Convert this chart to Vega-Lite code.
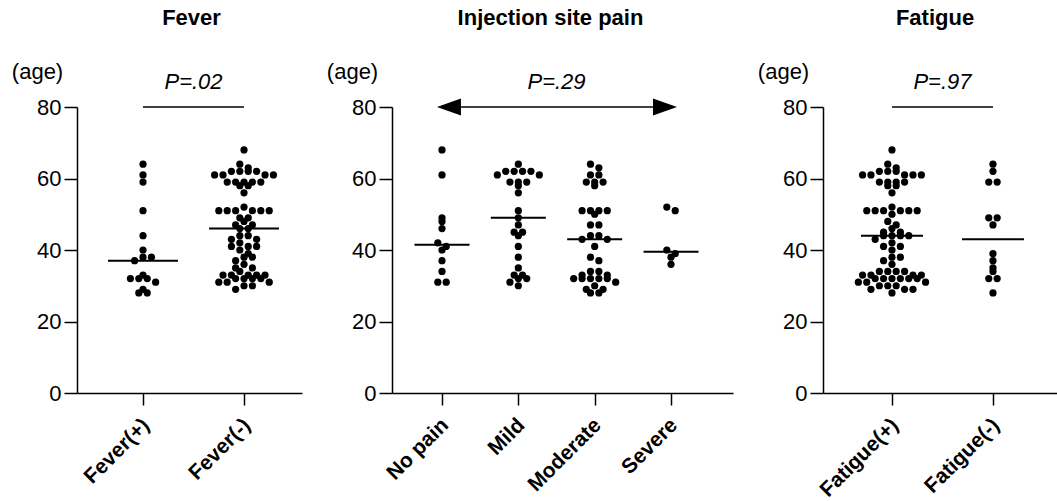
{
  "$schema": "https://vega.github.io/schema/vega-lite/v6.json",
  "autosize": {"type": "pad"},
  "padding": {"left": 11, "top": 7, "right": 0, "bottom": 0},
  "spacing": 90,
  "bounds": "flush",
  "background": "white",
  "config": {
    "view": {"stroke": null},
    "font": "Liberation Sans",
    "axis": {"domainColor": "black", "tickColor": "black", "labelColor": "black", "titleColor": "black", "domainWidth": 1.5, "tickWidth": 1.5, "grid": false, "labelFont": "Liberation Sans", "titleFont": "Liberation Sans", "labelFlush": false, "labelOverlap": false, "labelBound": false},
    "axisY": {"tickSize": 13, "labelFontSize": 22, "labelPadding": 3, "titleAngle": 0, "titleX": -40, "titleY": -29, "titleAlign": "center", "titleBaseline": "alphabetic", "titleFontWeight": "normal", "titleFontSize": 22},
    "axisX": {"tickSize": 12, "labelAngle": -45, "labelAlign": "right", "labelBaseline": "top", "labelFontWeight": "bold", "labelFontSize": 21, "labelPadding": 9, "labelOffset": -5},
    "title": {"font": "Liberation Sans", "fontSize": 22, "fontWeight": "bold", "color": "black", "anchor": "middle", "frame": "group", "offset": 30},
    "text": {"font": "Liberation Sans", "color": "black"}
  },
  "datasets": {
    "fever": [
      {"group": "Fever(+)", "age": 64}, {"group": "Fever(+)", "age": 61}, {"group": "Fever(+)", "age": 59}, {"group": "Fever(+)", "age": 51}, {"group": "Fever(+)", "age": 44}, {"group": "Fever(+)", "age": 40}, {"group": "Fever(+)", "age": 38}, {"group": "Fever(+)", "age": 38}, {"group": "Fever(+)", "age": 37}, {"group": "Fever(+)", "age": 33}, {"group": "Fever(+)", "age": 32}, {"group": "Fever(+)", "age": 32}, {"group": "Fever(+)", "age": 32}, {"group": "Fever(+)", "age": 31}, {"group": "Fever(+)", "age": 29}, {"group": "Fever(+)", "age": 28}, {"group": "Fever(+)", "age": 28},
      {"group": "Fever(-)", "age": 68}, {"group": "Fever(-)", "age": 64}, {"group": "Fever(-)", "age": 63}, {"group": "Fever(-)", "age": 62}, {"group": "Fever(-)", "age": 62}, {"group": "Fever(-)", "age": 62}, {"group": "Fever(-)", "age": 62}, {"group": "Fever(-)", "age": 61}, {"group": "Fever(-)", "age": 61}, {"group": "Fever(-)", "age": 61}, {"group": "Fever(-)", "age": 61}, {"group": "Fever(-)", "age": 59}, {"group": "Fever(-)", "age": 59}, {"group": "Fever(-)", "age": 59}, {"group": "Fever(-)", "age": 59}, {"group": "Fever(-)", "age": 59}, {"group": "Fever(-)", "age": 58}, {"group": "Fever(-)", "age": 58}, {"group": "Fever(-)", "age": 56},
      {"group": "Fever(-)", "age": 52}, {"group": "Fever(-)", "age": 51}, {"group": "Fever(-)", "age": 51}, {"group": "Fever(-)", "age": 51}, {"group": "Fever(-)", "age": 51}, {"group": "Fever(-)", "age": 51}, {"group": "Fever(-)", "age": 51},
      {"group": "Fever(-)", "age": 49}, {"group": "Fever(-)", "age": 49}, {"group": "Fever(-)", "age": 48}, {"group": "Fever(-)", "age": 47}, {"group": "Fever(-)", "age": 47}, {"group": "Fever(-)", "age": 46}, {"group": "Fever(-)", "age": 46}, {"group": "Fever(-)", "age": 44}, {"group": "Fever(-)", "age": 44}, {"group": "Fever(-)", "age": 43}, {"group": "Fever(-)", "age": 43}, {"group": "Fever(-)", "age": 42}, {"group": "Fever(-)", "age": 41}, {"group": "Fever(-)", "age": 41}, {"group": "Fever(-)", "age": 41}, {"group": "Fever(-)", "age": 40}, {"group": "Fever(-)", "age": 39}, {"group": "Fever(-)", "age": 38}, {"group": "Fever(-)", "age": 38}, {"group": "Fever(-)", "age": 37}, {"group": "Fever(-)", "age": 36}, {"group": "Fever(-)", "age": 35}, {"group": "Fever(-)", "age": 35},
      {"group": "Fever(-)", "age": 34}, {"group": "Fever(-)", "age": 33}, {"group": "Fever(-)", "age": 33}, {"group": "Fever(-)", "age": 33}, {"group": "Fever(-)", "age": 33}, {"group": "Fever(-)", "age": 33}, {"group": "Fever(-)", "age": 32}, {"group": "Fever(-)", "age": 32}, {"group": "Fever(-)", "age": 32}, {"group": "Fever(-)", "age": 32}, {"group": "Fever(-)", "age": 31}, {"group": "Fever(-)", "age": 31}, {"group": "Fever(-)", "age": 31}, {"group": "Fever(-)", "age": 30}, {"group": "Fever(-)", "age": 30}, {"group": "Fever(-)", "age": 29}
    ],
    "fever_median": [{"group": "Fever(+)", "median": 37}, {"group": "Fever(-)", "median": 46}],
    "fever_test": [{"g1": "Fever(+)", "g2": "Fever(-)", "level": 80, "label": "P=.02"}],
    "pain": [
      {"group": "No pain", "age": 68}, {"group": "No pain", "age": 61}, {"group": "No pain", "age": 49}, {"group": "No pain", "age": 48}, {"group": "No pain", "age": 46}, {"group": "No pain", "age": 42}, {"group": "No pain", "age": 41}, {"group": "No pain", "age": 40}, {"group": "No pain", "age": 37}, {"group": "No pain", "age": 34}, {"group": "No pain", "age": 31}, {"group": "No pain", "age": 31},
      {"group": "Mild", "age": 64}, {"group": "Mild", "age": 62}, {"group": "Mild", "age": 62}, {"group": "Mild", "age": 62}, {"group": "Mild", "age": 62}, {"group": "Mild", "age": 61}, {"group": "Mild", "age": 61}, {"group": "Mild", "age": 59}, {"group": "Mild", "age": 59}, {"group": "Mild", "age": 59}, {"group": "Mild", "age": 58}, {"group": "Mild", "age": 56}, {"group": "Mild", "age": 51}, {"group": "Mild", "age": 49}, {"group": "Mild", "age": 47}, {"group": "Mild", "age": 45}, {"group": "Mild", "age": 45}, {"group": "Mild", "age": 44}, {"group": "Mild", "age": 41}, {"group": "Mild", "age": 38}, {"group": "Mild", "age": 35}, {"group": "Mild", "age": 33}, {"group": "Mild", "age": 33}, {"group": "Mild", "age": 32}, {"group": "Mild", "age": 32}, {"group": "Mild", "age": 31}, {"group": "Mild", "age": 30},
      {"group": "Moderate", "age": 64}, {"group": "Moderate", "age": 63}, {"group": "Moderate", "age": 61}, {"group": "Moderate", "age": 61}, {"group": "Moderate", "age": 59}, {"group": "Moderate", "age": 59}, {"group": "Moderate", "age": 59}, {"group": "Moderate", "age": 58}, {"group": "Moderate", "age": 51}, {"group": "Moderate", "age": 51}, {"group": "Moderate", "age": 51}, {"group": "Moderate", "age": 51}, {"group": "Moderate", "age": 50}, {"group": "Moderate", "age": 47}, {"group": "Moderate", "age": 47}, {"group": "Moderate", "age": 44}, {"group": "Moderate", "age": 44}, {"group": "Moderate", "age": 43}, {"group": "Moderate", "age": 43}, {"group": "Moderate", "age": 41}, {"group": "Moderate", "age": 38}, {"group": "Moderate", "age": 37}, {"group": "Moderate", "age": 34}, {"group": "Moderate", "age": 34}, {"group": "Moderate", "age": 33}, {"group": "Moderate", "age": 33}, {"group": "Moderate", "age": 32}, {"group": "Moderate", "age": 32}, {"group": "Moderate", "age": 32}, {"group": "Moderate", "age": 32}, {"group": "Moderate", "age": 32}, {"group": "Moderate", "age": 31}, {"group": "Moderate", "age": 30}, {"group": "Moderate", "age": 29}, {"group": "Moderate", "age": 29}, {"group": "Moderate", "age": 28}, {"group": "Moderate", "age": 28},
      {"group": "Severe", "age": 52}, {"group": "Severe", "age": 51}, {"group": "Severe", "age": 40}, {"group": "Severe", "age": 39}, {"group": "Severe", "age": 38}, {"group": "Severe", "age": 36}
    ],
    "pain_median": [{"group": "No pain", "median": 41.5}, {"group": "Mild", "median": 49}, {"group": "Moderate", "median": 43}, {"group": "Severe", "median": 39.5}],
    "pain_test": [{"g1": "No pain", "g2": "Severe", "level": 80, "label": "P=.29"}],
    "fatigue": [
      {"group": "Fatigue(+)", "age": 68}, {"group": "Fatigue(+)", "age": 64}, {"group": "Fatigue(+)", "age": 63}, {"group": "Fatigue(+)", "age": 62}, {"group": "Fatigue(+)", "age": 62}, {"group": "Fatigue(+)", "age": 62}, {"group": "Fatigue(+)", "age": 61}, {"group": "Fatigue(+)", "age": 61}, {"group": "Fatigue(+)", "age": 61}, {"group": "Fatigue(+)", "age": 61}, {"group": "Fatigue(+)", "age": 61}, {"group": "Fatigue(+)", "age": 59}, {"group": "Fatigue(+)", "age": 59}, {"group": "Fatigue(+)", "age": 59}, {"group": "Fatigue(+)", "age": 59}, {"group": "Fatigue(+)", "age": 58}, {"group": "Fatigue(+)", "age": 58}, {"group": "Fatigue(+)", "age": 56},
      {"group": "Fatigue(+)", "age": 52}, {"group": "Fatigue(+)", "age": 51}, {"group": "Fatigue(+)", "age": 51}, {"group": "Fatigue(+)", "age": 51}, {"group": "Fatigue(+)", "age": 51}, {"group": "Fatigue(+)", "age": 51}, {"group": "Fatigue(+)", "age": 51}, {"group": "Fatigue(+)", "age": 50},
      {"group": "Fatigue(+)", "age": 48}, {"group": "Fatigue(+)", "age": 47}, {"group": "Fatigue(+)", "age": 46}, {"group": "Fatigue(+)", "age": 45}, {"group": "Fatigue(+)", "age": 45}, {"group": "Fatigue(+)", "age": 44}, {"group": "Fatigue(+)", "age": 44}, {"group": "Fatigue(+)", "age": 44}, {"group": "Fatigue(+)", "age": 44},
      {"group": "Fatigue(+)", "age": 43}, {"group": "Fatigue(+)", "age": 42}, {"group": "Fatigue(+)", "age": 41}, {"group": "Fatigue(+)", "age": 41}, {"group": "Fatigue(+)", "age": 40}, {"group": "Fatigue(+)", "age": 38}, {"group": "Fatigue(+)", "age": 38}, {"group": "Fatigue(+)", "age": 37}, {"group": "Fatigue(+)", "age": 36},
      {"group": "Fatigue(+)", "age": 34}, {"group": "Fatigue(+)", "age": 34}, {"group": "Fatigue(+)", "age": 34}, {"group": "Fatigue(+)", "age": 34}, {"group": "Fatigue(+)", "age": 33}, {"group": "Fatigue(+)", "age": 33}, {"group": "Fatigue(+)", "age": 33}, {"group": "Fatigue(+)", "age": 33}, {"group": "Fatigue(+)", "age": 32}, {"group": "Fatigue(+)", "age": 32}, {"group": "Fatigue(+)", "age": 32}, {"group": "Fatigue(+)", "age": 32}, {"group": "Fatigue(+)", "age": 32}, {"group": "Fatigue(+)", "age": 32}, {"group": "Fatigue(+)", "age": 31}, {"group": "Fatigue(+)", "age": 31}, {"group": "Fatigue(+)", "age": 31}, {"group": "Fatigue(+)", "age": 30}, {"group": "Fatigue(+)", "age": 30}, {"group": "Fatigue(+)", "age": 30}, {"group": "Fatigue(+)", "age": 29}, {"group": "Fatigue(+)", "age": 29}, {"group": "Fatigue(+)", "age": 29}, {"group": "Fatigue(+)", "age": 28},
      {"group": "Fatigue(-)", "age": 64}, {"group": "Fatigue(-)", "age": 62}, {"group": "Fatigue(-)", "age": 59}, {"group": "Fatigue(-)", "age": 59}, {"group": "Fatigue(-)", "age": 49}, {"group": "Fatigue(-)", "age": 49}, {"group": "Fatigue(-)", "age": 47}, {"group": "Fatigue(-)", "age": 39}, {"group": "Fatigue(-)", "age": 37}, {"group": "Fatigue(-)", "age": 35}, {"group": "Fatigue(-)", "age": 34}, {"group": "Fatigue(-)", "age": 32}, {"group": "Fatigue(-)", "age": 32}, {"group": "Fatigue(-)", "age": 28}
    ],
    "fatigue_median": [{"group": "Fatigue(+)", "median": 44}, {"group": "Fatigue(-)", "median": 43}],
    "fatigue_test": [{"g1": "Fatigue(+)", "g2": "Fatigue(-)", "level": 80, "label": "P=.97"}]
  },
  "hconcat": [
    {
      "width": 225, "height": 286,
      "title": {"text": "Fever", "dx": 2},
      "encoding": {
        "x": {"field": "xv", "type": "quantitative", "scale": {"domain": [-0.6535, 1.574], "nice": false, "zero": false}, "axis": {"values": [0, 1], "title": null, "labelExpr": "['Fever(+)','Fever(-)'][datum.value]"}},
        "y": {"field": "yv", "type": "quantitative", "scale": {"domain": [0, 80], "nice": false}, "axis": {"values": [0, 20, 40, 60, 80], "title": "(age)"}}
      },
      "layer": [
        {"data": {"name": "fever"}, "transform": [
          {"calculate": "floor((datum.age - 1) / 2)", "as": "bin"},
          {"window": [{"op": "row_number", "as": "r"}, {"op": "count", "as": "n"}], "groupby": ["group", "bin"], "sort": [{"field": "age", "order": "descending"}], "frame": [null, null]},
          {"calculate": "datum.n % 2 == 1 ? (datum.r == 1 ? 0 : (datum.r % 2 == 0 ? 1 : -1) * floor(datum.r / 2)) : (datum.r % 2 == 1 ? -1 : 1) * (floor((datum.r - 1) / 2) + 0.5)", "as": "pos"},
          {"calculate": "indexof(['Fever(+)','Fever(-)'], datum.group) + datum.pos * 0.0832", "as": "xv"},
          {"calculate": "datum.age", "as": "yv"}
        ], "mark": {"type": "circle", "size": 52, "color": "black", "opacity": 1}},
        {"data": {"name": "fever_median"}, "transform": [
          {"calculate": "indexof(['Fever(+)','Fever(-)'], datum.group)", "as": "xv"},
          {"calculate": "datum.median", "as": "yv"}
        ], "mark": {"type": "tick", "orient": "horizontal", "size": 70, "thickness": 2, "color": "black", "opacity": 1}},
        {"data": {"name": "fever_test"}, "transform": [
          {"calculate": "indexof(['Fever(+)','Fever(-)'], datum.g1)", "as": "xv"},
          {"calculate": "indexof(['Fever(+)','Fever(-)'], datum.g2)", "as": "x2v"},
          {"calculate": "datum.level", "as": "yv"}
        ], "mark": {"type": "rule", "color": "black", "strokeWidth": 1.5}, "encoding": {"x2": {"field": "x2v"}}},
        {"data": {"name": "fever_test"}, "transform": [
          {"calculate": "(indexof(['Fever(+)','Fever(-)'], datum.g1) + indexof(['Fever(+)','Fever(-)'], datum.g2)) / 2", "as": "xv"},
          {"calculate": "datum.level", "as": "yv"}
        ], "mark": {"type": "text", "fontStyle": "italic", "fontSize": 22, "dy": -18, "baseline": "alphabetic", "align": "center"}, "encoding": {"text": {"field": "label"}}}
      ]
    },
    {
      "width": 341, "height": 286,
      "title": {"text": "Injection site pain", "dx": -12},
      "encoding": {
        "x": {"field": "xv", "type": "quantitative", "scale": {"domain": [-0.655, 3.812], "nice": false, "zero": false}, "axis": {"values": [0, 1, 2, 3], "title": null, "labelExpr": "['No pain','Mild','Moderate','Severe'][datum.value]"}},
        "y": {"field": "yv", "type": "quantitative", "scale": {"domain": [0, 80], "nice": false}, "axis": {"values": [0, 20, 40, 60, 80], "title": "(age)"}}
      },
      "layer": [
        {"data": {"name": "pain"}, "transform": [
          {"calculate": "floor((datum.age - 1) / 2)", "as": "bin"},
          {"window": [{"op": "row_number", "as": "r"}, {"op": "count", "as": "n"}], "groupby": ["group", "bin"], "sort": [{"field": "age", "order": "descending"}], "frame": [null, null]},
          {"calculate": "datum.n % 2 == 1 ? (datum.r == 1 ? 0 : (datum.r % 2 == 0 ? 1 : -1) * floor(datum.r / 2)) : (datum.r % 2 == 1 ? -1 : 1) * (floor((datum.r - 1) / 2) + 0.5)", "as": "pos"},
          {"calculate": "indexof(['No pain','Mild','Moderate','Severe'], datum.group) + datum.pos * 0.110", "as": "xv"},
          {"calculate": "datum.age", "as": "yv"}
        ], "mark": {"type": "circle", "size": 52, "color": "black", "opacity": 1}},
        {"data": {"name": "pain_median"}, "transform": [
          {"calculate": "indexof(['No pain','Mild','Moderate','Severe'], datum.group)", "as": "xv"},
          {"calculate": "datum.median", "as": "yv"}
        ], "mark": {"type": "tick", "orient": "horizontal", "size": 55, "thickness": 2, "color": "black", "opacity": 1}},
        {"data": {"name": "pain_test"}, "transform": [
          {"calculate": "indexof(['No pain','Mild','Moderate','Severe'], datum.g1)", "as": "xv"},
          {"calculate": "indexof(['No pain','Mild','Moderate','Severe'], datum.g2)", "as": "x2v"},
          {"calculate": "datum.level", "as": "yv"}
        ], "mark": {"type": "rule", "color": "black", "strokeWidth": 1.5}, "encoding": {"x2": {"field": "x2v"}}},
        {"data": {"name": "pain_test"}, "transform": [
          {"calculate": "indexof(['No pain','Mild','Moderate','Severe'], datum.g1)", "as": "xv"},
          {"calculate": "datum.level", "as": "yv"}
        ], "mark": {"type": "point", "shape": "M-0.42,0L1.58,-0.71L1.58,0.71Z", "size": 576, "filled": true, "color": "black", "opacity": 1, "strokeWidth": 0}},
        {"data": {"name": "pain_test"}, "transform": [
          {"calculate": "indexof(['No pain','Mild','Moderate','Severe'], datum.g2)", "as": "xv"},
          {"calculate": "datum.level", "as": "yv"}
        ], "mark": {"type": "point", "shape": "M0.5,0L-1.5,-0.71L-1.5,0.71Z", "size": 576, "filled": true, "color": "black", "opacity": 1, "strokeWidth": 0}},
        {"data": {"name": "pain_test"}, "transform": [
          {"calculate": "(indexof(['No pain','Mild','Moderate','Severe'], datum.g1) + indexof(['No pain','Mild','Moderate','Severe'], datum.g2)) / 2", "as": "xv"},
          {"calculate": "datum.level", "as": "yv"}
        ], "mark": {"type": "text", "fontStyle": "italic", "fontSize": 22, "dy": -18, "baseline": "alphabetic", "align": "center"}, "encoding": {"text": {"field": "label"}}}
      ]
    },
    {
      "width": 234, "height": 286,
      "title": {"text": "Fatigue", "dx": -5},
      "encoding": {
        "x": {"field": "xv", "type": "quantitative", "scale": {"domain": [-0.683, 1.634], "nice": false, "zero": false}, "axis": {"values": [0, 1], "title": null, "labelExpr": "['Fatigue(+)','Fatigue(-)'][datum.value]"}},
        "y": {"field": "yv", "type": "quantitative", "scale": {"domain": [0, 80], "nice": false}, "axis": {"values": [0, 20, 40, 60, 80], "title": "(age)"}}
      },
      "layer": [
        {"data": {"name": "fatigue"}, "transform": [
          {"calculate": "floor((datum.age - 1) / 2)", "as": "bin"},
          {"window": [{"op": "row_number", "as": "r"}, {"op": "count", "as": "n"}], "groupby": ["group", "bin"], "sort": [{"field": "age", "order": "descending"}], "frame": [null, null]},
          {"calculate": "datum.n % 2 == 1 ? (datum.r == 1 ? 0 : (datum.r % 2 == 0 ? 1 : -1) * floor(datum.r / 2)) : (datum.r % 2 == 1 ? -1 : 1) * (floor((datum.r - 1) / 2) + 0.5)", "as": "pos"},
          {"calculate": "indexof(['Fatigue(+)','Fatigue(-)'], datum.group) + datum.pos * 0.0832", "as": "xv"},
          {"calculate": "datum.age", "as": "yv"}
        ], "mark": {"type": "circle", "size": 52, "color": "black", "opacity": 1}},
        {"data": {"name": "fatigue_median"}, "transform": [
          {"calculate": "indexof(['Fatigue(+)','Fatigue(-)'], datum.group)", "as": "xv"},
          {"calculate": "datum.median", "as": "yv"}
        ], "mark": {"type": "tick", "orient": "horizontal", "size": 62, "thickness": 2, "color": "black", "opacity": 1}},
        {"data": {"name": "fatigue_test"}, "transform": [
          {"calculate": "indexof(['Fatigue(+)','Fatigue(-)'], datum.g1)", "as": "xv"},
          {"calculate": "indexof(['Fatigue(+)','Fatigue(-)'], datum.g2)", "as": "x2v"},
          {"calculate": "datum.level", "as": "yv"}
        ], "mark": {"type": "rule", "color": "black", "strokeWidth": 1.5}, "encoding": {"x2": {"field": "x2v"}}},
        {"data": {"name": "fatigue_test"}, "transform": [
          {"calculate": "(indexof(['Fatigue(+)','Fatigue(-)'], datum.g1) + indexof(['Fatigue(+)','Fatigue(-)'], datum.g2)) / 2", "as": "xv"},
          {"calculate": "datum.level", "as": "yv"}
        ], "mark": {"type": "text", "fontStyle": "italic", "fontSize": 22, "dy": -18, "baseline": "alphabetic", "align": "center"}, "encoding": {"text": {"field": "label"}}}
      ]
    }
  ]
}
